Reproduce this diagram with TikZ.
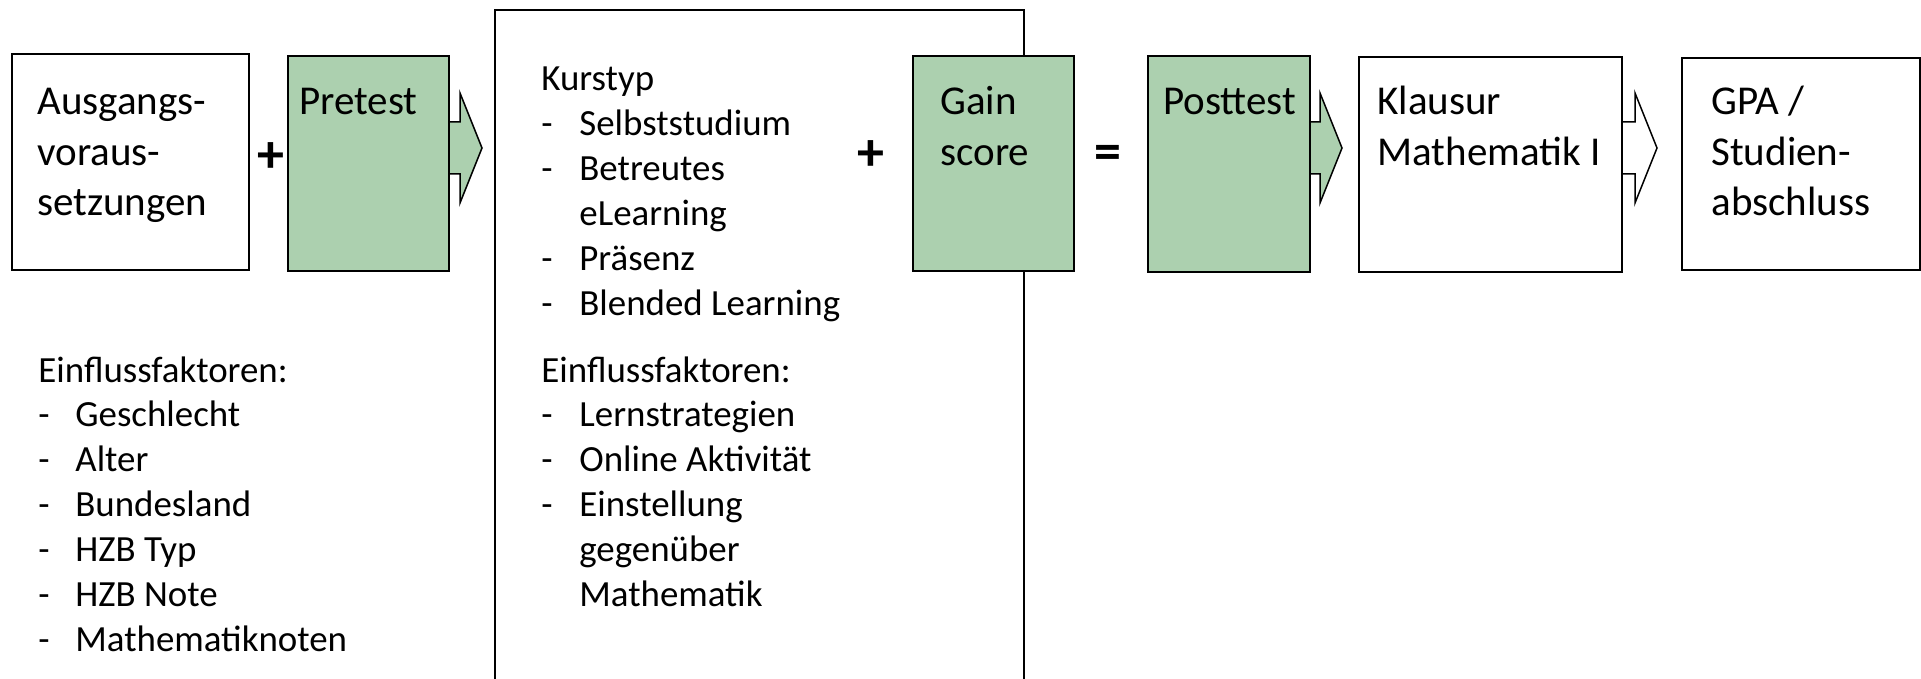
\documentclass[tikz,border=0pt]{standalone}
\usepackage{fontspec}
\setmainfont{Carlito}
\usetikzlibrary{calc}
\definecolor{grn}{RGB}{172,208,175}
\begin{document}
\begin{tikzpicture}[x=0.5pt,y=-0.5pt,
  box/.style={draw=black, line width=0.75pt, fill=white, inner sep=0pt, outer sep=0pt},
  gbox/.style={box, fill=grn},
  bigtxt/.style={inner sep=0pt, anchor=base west, font=\fontsize{20.5}{25}\selectfont},
  smalltxt/.style={inner sep=0pt, anchor=base west, font=\fontsize{18.45}{22.45}\selectfont},
  optxt/.style={inner sep=0pt, anchor=center, font=\fontsize{27}{30}\selectfont\bfseries},
  blockarrow/.style={draw=black, line width=0.75pt, line join=miter}]
\useasboundingbox (0,0) rectangle (1921,679);
\clip (0,0) rectangle (1921,679);

% large middle frame (runs off the bottom)
\node[box, minimum width=264.5pt, minimum height=350pt] (kurs) at (759.5,360) {};

% block arrows (drawn before the boxes that hide their tails)
\coordinate (tipA) at (482,148);
\coordinate (tipB) at (1342,148);
\coordinate (tipC) at (1657,148);
\draw[blockarrow, fill=grn] ($(tipA)+(-52,-26)$) -- ($(tipA)+(-22,-26)$) -- ($(tipA)+(-22,-55)$) -- (tipA)
  -- ($(tipA)+(-22,55)$) -- ($(tipA)+(-22,26)$) -- ($(tipA)+(-52,26)$) -- cycle;
\draw[blockarrow, fill=grn] ($(tipB)+(-52,-26)$) -- ($(tipB)+(-22,-26)$) -- ($(tipB)+(-22,-55)$) -- (tipB)
  -- ($(tipB)+(-22,55)$) -- ($(tipB)+(-22,26)$) -- ($(tipB)+(-52,26)$) -- cycle;
\draw[blockarrow, fill=white] ($(tipC)+(-57,-26)$) -- ($(tipC)+(-22,-26)$) -- ($(tipC)+(-22,-55)$) -- (tipC)
  -- ($(tipC)+(-22,55)$) -- ($(tipC)+(-22,26)$) -- ($(tipC)+(-57,26)$) -- cycle;

% boxes
\node[box,  minimum width=118.5pt, minimum height=108pt]   (ausg)  at (130.5,162) {};
\node[gbox, minimum width=80.5pt,  minimum height=107.5pt] (pre)   at (368.5,163.5) {};
\node[gbox, minimum width=80.5pt,  minimum height=107.5pt] (gain)  at (993.5,163.5) {};
\node[gbox, minimum width=81pt,    minimum height=108pt]   (post)  at (1229,164) {};
\node[box,  minimum width=131.5pt, minimum height=107.5pt] (klaus) at (1490.5,164.5) {};
\node[box,  minimum width=119pt,   minimum height=106pt]   (gpa)   at (1801,164) {};

% box texts
\node[bigtxt] (t1a) at (37,114.5) {Ausgangs-};
\node[bigtxt] (t1b) at (37,165.3) {voraus-};
\node[bigtxt] (t1c) at (37,216) {setzungen};
\node[bigtxt] (t2) at (299,114.5) {Pretest};
\node[bigtxt] (t3a) at (940,114.5) {Gain};
\node[bigtxt] (t3b) at (940,165.3) {score};
\node[bigtxt] (t4) at (1163,114.5) {Posttest};
\node[bigtxt] (t5a) at (1377,114.5) {Klausur};
\node[bigtxt] (t5b) at (1377,165.3) {Mathematik I};
\node[bigtxt] (t6a) at (1711,114.5) {GPA /};
\node[bigtxt] (t6b) at (1711,165.3) {Studien-};
\node[bigtxt] (t6c) at (1711,216) {abschluss};

% operators
\node[optxt] (plus1) at (271,158) {+};
\node[optxt] (plus2) at (871,156) {+};
\node[optxt] (eq)    at (1108,157) {=};

% left list
\node[smalltxt] (lh) at (38,382) {Einflussfaktoren:};
\foreach \t [count=\i] in {Geschlecht, Alter, Bundesland, HZB Typ, HZB Note, Mathematiknoten}{
  \node[smalltxt] (ld\i) at (38,{382+44.9*\i}) {-};
  \node[smalltxt] (li\i) at (75,{382+44.9*\i}) {\t};
}

% middle list
\node[smalltxt] (mh1) at (541,91) {Kurstyp};
\node[smalltxt] (md1) at (541,135.8) {-};
\node[smalltxt] (mi1) at (579,135.8) {Selbststudium};
\node[smalltxt] (md2) at (541,180.6) {-};
\node[smalltxt] (mi2) at (579,180.6) {Betreutes};
\node[smalltxt] (mi2b) at (579,225.4) {eLearning};
\node[smalltxt] (md3) at (541,270.2) {-};
\node[smalltxt] (mi3) at (579,270.2) {Präsenz};
\node[smalltxt] (md4) at (541,315) {-};
\node[smalltxt] (mi4) at (579,315) {Blended Learning};

\node[smalltxt] (mh2) at (541,382) {Einflussfaktoren:};
\node[smalltxt] (me1) at (541,426.9) {-};
\node[smalltxt] (mf1) at (579,426.9) {Lernstrategien};
\node[smalltxt] (me2) at (541,471.8) {-};
\node[smalltxt] (mf2) at (579,471.8) {Online Aktivität};
\node[smalltxt] (me3) at (541,516.7) {-};
\node[smalltxt] (mf3) at (579,516.7) {Einstellung};
\node[smalltxt] (mf3b) at (579,561.6) {gegenüber};
\node[smalltxt] (mf3c) at (579,606.5) {Mathematik};
\end{tikzpicture}
\end{document}
